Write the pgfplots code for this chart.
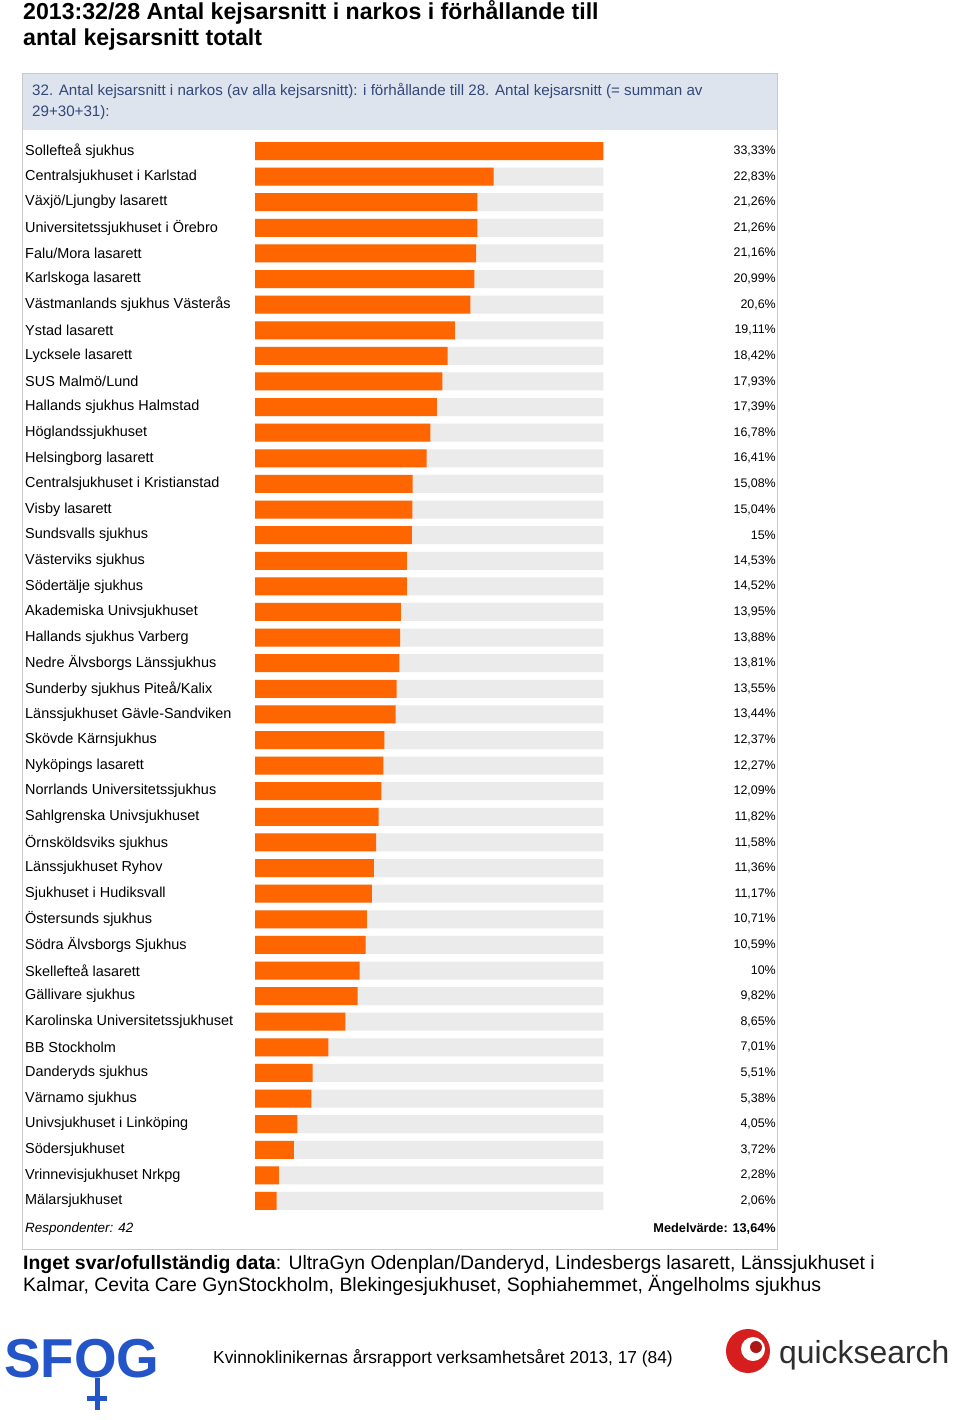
\documentclass[border=0pt]{standalone}
\usepackage{pgfplots}
\pgfplotsset{compat=1.18}
\usepackage{pgfplotstable}
\usepackage{fontspec}
\setmainfont{Liberation Sans}
\definecolor{barorange}{RGB}{255,102,0}
\definecolor{track}{RGB}{235,235,235}
\definecolor{hdrbg}{RGB}{222,228,238}
\definecolor{hdrtext}{RGB}{50,72,120}
\definecolor{framec}{RGB}{200,200,200}
\definecolor{sfog}{RGB}{35,85,200}
\definecolor{qsred}{RGB}{215,30,30}
\definecolor{qsgray}{RGB}{45,45,45}

% pos: row position (0 = top row, -41 = bottom row)
\pgfplotstableread{
pos val lbl
0 33.33 33,33
-1 22.83 22,83
-2 21.26 21,26
-3 21.26 21,26
-4 21.16 21,16
-5 20.99 20,99
-6 20.6 20,6
-7 19.11 19,11
-8 18.42 18,42
-9 17.93 17,93
-10 17.39 17,39
-11 16.78 16,78
-12 16.41 16,41
-13 15.08 15,08
-14 15.04 15,04
-15 15 15
-16 14.53 14,53
-17 14.52 14,52
-18 13.95 13,95
-19 13.88 13,88
-20 13.81 13,81
-21 13.55 13,55
-22 13.44 13,44
-23 12.37 12,37
-24 12.27 12,27
-25 12.09 12,09
-26 11.82 11,82
-27 11.58 11,58
-28 11.36 11,36
-29 11.17 11,17
-30 10.71 10,71
-31 10.59 10,59
-32 10 10
-33 9.82 9,82
-34 8.65 8,65
-35 7.01 7,01
-36 5.51 5,51
-37 5.38 5,38
-38 4.05 4,05
-39 3.72 3,72
-40 2.28 2,28
-41 2.06 2,06
}\data

\newcommand{\chartfont}{\fontsize{14.5}{16}\selectfont}
\newcommand{\pctfont}{\fontsize{12.5}{14}\selectfont}

\begin{document}
\begin{tikzpicture}[x=1bp,y=1bp]
\path (0,0) rectangle (960,-1420);
% frame and header
\draw[framec, line width=1.2bp, fill=white] (22.5,-73.5) rectangle (777.5,-1249.5);
\fill[hdrbg] (23.2,-74.2) rectangle (776.8,-130);
\node[anchor=base west, inner sep=0pt, text=hdrtext, font=\fontsize{15.2}{17}\selectfont] at (32,-95.5) {32. Antal kejsarsnitt i narkos (av alla kejsarsnitt): i förhållande till 28. Antal kejsarsnitt (= summan av};
\node[anchor=base west, inner sep=0pt, text=hdrtext, font=\fontsize{15.2}{17}\selectfont] at (32,-116.5) {29+30+31):};

\begin{axis}[
  at={(255bp,-138.2bp)}, anchor=north west,
  scale only axis, width=521bp, height=1075.6bp,
  xmin=0, xmax=49.83, ymin=-41.5, ymax=0.5,
  hide x axis,
  axis y line*=left, y axis line style={draw=none},
  major tick length=0pt,
  ytick={0,-1,...,-41},
  yticklabels={Sollefteå sjukhus, Centralsjukhuset i Karlstad, Växjö/Ljungby lasarett, Universitetssjukhuset i Örebro, Falu/Mora lasarett, Karlskoga lasarett, Västmanlands sjukhus Västerås, Ystad lasarett, Lycksele lasarett, SUS Malmö/Lund, Hallands sjukhus Halmstad, Höglandssjukhuset, Helsingborg lasarett, Centralsjukhuset i Kristianstad, Visby lasarett, Sundsvalls sjukhus, Västerviks sjukhus, Södertälje sjukhus, Akademiska Univsjukhuset, Hallands sjukhus Varberg, Nedre Älvsborgs Länssjukhus, Sunderby sjukhus Piteå/Kalix, Länssjukhuset Gävle-Sandviken, Skövde Kärnsjukhus, Nyköpings lasarett, Norrlands Universitetssjukhus, Sahlgrenska Univsjukhuset, Örnsköldsviks sjukhus, Länssjukhuset Ryhov, Sjukhuset i Hudiksvall, Östersunds sjukhus, Södra Älvsborgs Sjukhus, Skellefteå lasarett, Gällivare sjukhus, Karolinska Universitetssjukhuset, BB Stockholm, Danderyds sjukhus, Värnamo sjukhus, Univsjukhuset i Linköping, Södersjukhuset, Vrinnevisjukhuset Nrkpg, Mälarsjukhuset},
  yticklabel style={anchor=west, inner sep=0pt, xshift=-230bp, font=\chartfont, text=black},
  clip=false,
]
\addplot[xbar, bar shift=0pt, bar width=18bp, fill=track, draw=none] table[x expr=33.33, y=pos]{\data};
\addplot[xbar, bar shift=0pt, bar width=18bp, fill=barorange, draw=none] table[x=val, y=pos]{\data};
\addplot[only marks, mark=none, point meta=explicit symbolic,
  nodes near coords={\pgfplotspointmeta\%},
  nodes near coords style={anchor=east, inner sep=0pt, font=\pctfont, text=black}]
  table[x expr=49.83, y=pos, meta=lbl]{\data};
\end{axis}

% title
\node[anchor=base west, inner sep=0pt, font=\fontsize{23.2}{26}\selectfont\bfseries] at (23,-20) {2013:32/28 Antal kejsarsnitt i narkos i förhållande till};
\node[anchor=base west, inner sep=0pt, font=\fontsize{23.2}{26}\selectfont\bfseries] at (23,-45.5) {antal kejsarsnitt totalt};

\node[anchor=base west, inner sep=0pt, font=\fontsize{13.5}{15}\selectfont\itshape] at (25,-1232.5) {Respondenter: 42};
\node[anchor=base east, inner sep=0pt, font=\fontsize{12.8}{15}\selectfont\bfseries] at (776,-1232.5) {Medelvärde: 13,64\%};

% footnote
\node[anchor=base west, inner sep=0pt, font=\fontsize{19.5}{22}\selectfont] at (23,-1269) {\textbf{Inget svar/ofullständig data}: UltraGyn Odenplan/Danderyd, Lindesbergs lasarett, Länssjukhuset i};
\node[anchor=base west, inner sep=0pt, font=\fontsize{19.5}{22}\selectfont] at (23,-1291) {Kalmar, Cevita Care GynStockholm, Blekingesjukhuset, Sophiahemmet, Ängelholms sjukhus};

% footer
\node[anchor=base west, inner sep=0pt, font=\fontsize{17.4}{20}\selectfont] at (213,-1363) {Kvinnoklinikernas årsrapport verksamhetsåret 2013, 17 (84)};

% SFOG logo
\node[anchor=base west, inner sep=0pt, text=sfog, font=\fontsize{55}{60}\selectfont\bfseries] at (4,-1377) {SFOG};
\draw[sfog, line width=5bp] (97,-1378) -- (97,-1410);
\draw[sfog, line width=5bp] (87,-1398) -- (107,-1398);

% quicksearch logo
\fill[qsred] (748,-1351) circle (22);
\fill[white] (753,-1349) circle (12);
\fill[qsred!80!black] (756,-1347) circle (6);
\node[anchor=base west, inner sep=0pt, text=qsgray, font=\fontsize{32}{36}\selectfont] at (779,-1363) {quicksearch};
\end{tikzpicture}
\end{document}
